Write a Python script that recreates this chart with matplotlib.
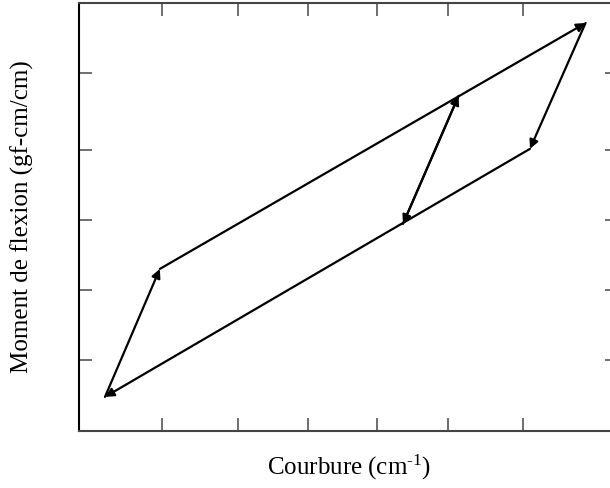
import matplotlib.pyplot as plt

plt.rcParams['font.family'] = ['Liberation Serif', 'DejaVu Serif']
plt.rcParams['mathtext.fontset'] = 'custom'
plt.rcParams['mathtext.rm'] = 'Liberation Serif'
plt.rcParams['mathtext.it'] = 'Liberation Serif:italic'

# corner points of the loop (courbure, moment), arbitrary units
pt_names = ['A', 'B', 'C', 'D', 'E', 'F']
pt_x = [0.21, 0.97, 6.87, 6.10, 5.11, 4.34]
pt_y = [0.47, 2.26, 5.70, 3.94, 4.68, 2.89]

# arrows: (start, end)
segments = [('A', 'B'), ('B', 'C'), ('C', 'D'), ('D', 'A'), ('F', 'E'), ('E', 'F')]

# tick marks are hand-placed in the original, not perfectly even
x_ticks = [1.0, 2.05, 3.02, 3.98, 4.96, 6.0]
y_ticks = [0.99, 1.97, 2.95, 3.93, 5.0]

pts = {n: (x, y) for n, x, y in zip(pt_names, pt_x, pt_y)}

fig = plt.figure(figsize=(6.10, 4.89), dpi=100)
# right spine sits just outside the picture
ax = fig.add_axes([79 / 610, 57.5 / 489, 539 / 610, 427.5 / 489])

for a, b in segments:
    ax.annotate('', xy=pts[b], xytext=pts[a],
                arrowprops=dict(arrowstyle='-|>', color='black', lw=1.6,
                                mutation_scale=13, shrinkA=0, shrinkB=0))

ax.set_xlim(-0.15, 7.32)
ax.set_ylim(0, 5.98)
ax.set_xticks(x_ticks)
ax.set_yticks(y_ticks)
ax.tick_params(direction='in', length=9.5, width=1.2, colors='#555555',
               top=True, right=True, labelbottom=False, labelleft=False)
for s in ['bottom', 'top']:
    ax.spines[s].set_color('#444444')
    ax.spines[s].set_linewidth(1.5)
ax.spines['left'].set_color('black')
ax.spines['left'].set_linewidth(1.5)

fig.text(349 / 610, 1 - 467 / 489, 'Courbure (cm$^{\\text{-1}}$)', ha='center', va='center', fontsize=18)
fig.text(22 / 610, 1 - 217 / 489, 'Moment de flexion (gf-cm/cm)', ha='center', va='center',
         rotation=90, fontsize=18)

fig.savefig('out.png', dpi=100)
